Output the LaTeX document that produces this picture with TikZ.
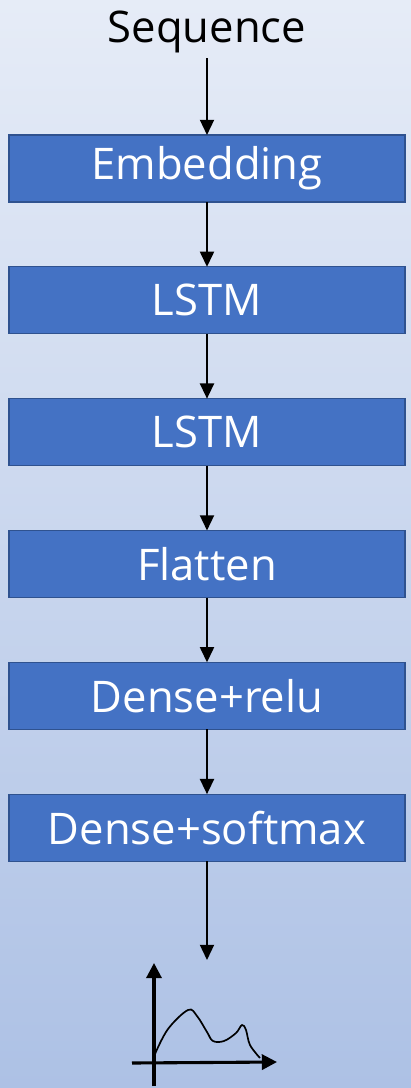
\documentclass[tikz,border=0pt]{standalone}
\usepackage{fontspec}
\setmainfont{Open Sans}
\usetikzlibrary{arrows.meta,positioning}
\definecolor{LayerBlue}{HTML}{4472C4}
\definecolor{LayerEdge}{HTML}{2F528F}
\definecolor{BgTop}{HTML}{E6ECF7}
\definecolor{BgBottom}{HTML}{ADC1E5}

\begin{document}
\begin{tikzpicture}[x=0.025cm,y=-0.025cm,
    layer/.style={draw=LayerEdge,line width=0.9pt,fill=LayerBlue,text=white,
      minimum width=9.9cm,minimum height=1.675cm,inner sep=0pt,outer sep=0pt,
      font=\fontsize{31}{36}\selectfont},
    label/.style={font=\fontsize{31}{36}\selectfont,inner sep=0pt},
    flow/.style={-{Triangle[length=3.8mm,width=3.5mm]},line width=1.4pt},
    axis/.style={-{Triangle[length=3.8mm,width=3.8mm]},line width=2.2pt},
    node distance=1.62cm
  ]
    \shade[top color=BgTop,bottom color=BgBottom] (0,0) rectangle (411,1088);
    \useasboundingbox (0,0) rectangle (411,1088);

    \node[layer] (emb) at (207,168.5) {Embedding};
    \node[layer,below=of emb] (lstma) {LSTM};
    \node[layer,below=of lstma] (lstmb) {LSTM};
    \node[layer,below=of lstmb] (flat) {Flatten};
    \node[layer,below=of flat] (relu) {Dense+relu};
    \node[layer,below=of relu] (soft) {Dense+softmax};
    \node[label] (seq) at (207,32) {Sequence};

    \coordinate (out) at (207,960);
    \coordinate (origin) at (154,1063);

    \draw[flow] ([yshift=-0.12cm]seq.south) -- (emb);
    \draw[flow] (emb) -- (lstma);
    \draw[flow] (lstma) -- (lstmb);
    \draw[flow] (lstmb) -- (flat);
    \draw[flow] (flat) -- (relu);
    \draw[flow] (relu) -- (soft);
    \draw[flow] (soft) -- (out);

    % output distribution
    \draw[axis] (154,1086) -- (154,963);
    \draw[axis] (132,1063) -- (277,1062);
    \draw[line width=1.2pt] plot[smooth,tension=0.6] coordinates {(155,1054) (168,1029) (188,1010)
      (197,1016) (207,1032) (213,1041) (224,1041) (236,1033) (242,1025) (246,1030) (250,1045) (260,1058)};
\end{tikzpicture}
\end{document}
